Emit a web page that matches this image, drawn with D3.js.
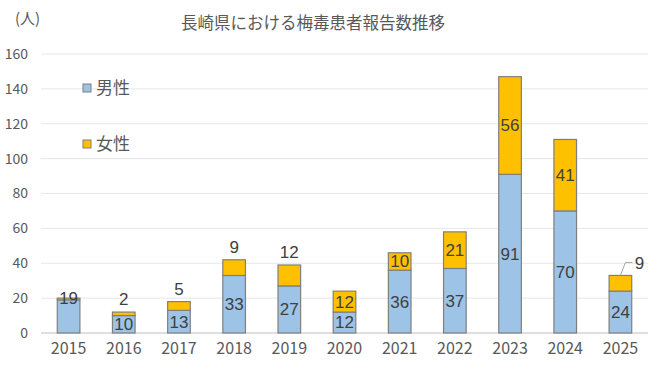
<!DOCTYPE html>
<html><head><meta charset="utf-8">
<script src="https://cdn.jsdelivr.net/npm/d3@7"></script>
<style>
body{margin:0;background:#fff;}
text{font-family:"Noto Sans CJK JP","Noto Sans",sans-serif;}
text.num{font-family:"Liberation Sans",Arial,sans-serif;}
</style></head>
<body>
<svg id="chart" width="665" height="382"></svg>
<script>
const years = ["2015","2016","2017","2018","2019","2020","2021","2022","2023","2024","2025"];
const male = [19,10,13,33,27,12,36,37,91,70,24];
const female = [1,2,5,9,12,12,10,21,56,41,9];
const yTicks = [0,20,40,60,80,100,120,140,160];
const seriesNames = ["男性","女性"];
const title = "長崎県における梅毒患者報告数推移";
const unitLabel = "(人)";
// female labels placed above the bar
const femaleAbove = ["2016","2017","2018","2019"];
const femaleHidden = ["2015"];
const femaleLeader = ["2025"];

const svg = d3.select("#chart");
const colors = {male:"#9dc3e6", female:"#ffc000"};
const x = d3.scaleBand().domain(years).range([41,648]).paddingInner(0.59).paddingOuter(0.295);
const y = d3.scaleLinear().domain([0,160]).range([333,54]);

// gridlines
svg.append("g").selectAll("line").data(yTicks.filter(d=>d>0)).join("line")
  .attr("x1",41).attr("x2",648).attr("y1",d=>y(d)).attr("y2",d=>y(d))
  .attr("stroke","#e6e6e6").attr("stroke-width",1);
svg.append("line").attr("x1",41).attr("x2",648).attr("y1",y(0)).attr("y2",y(0))
  .attr("stroke","#d4d4d4").attr("stroke-width",1.5);

// y axis labels
const yAxis = d3.axisLeft(y).tickValues(yTicks).tickSize(0).tickPadding(0);
const gy = svg.append("g").attr("transform","translate(28,0)").call(yAxis);
gy.select(".domain").remove();
gy.selectAll("text").attr("font-size",14).attr("fill","#595959")
  .style("font-family",'"Noto Sans CJK JP",sans-serif');

// x axis labels
const xAxis = d3.axisBottom(x).tickSize(0).tickPadding(0);
const gx = svg.append("g").attr("transform","translate(0,343)").call(xAxis);
gx.select(".domain").remove();
gx.selectAll("text").attr("font-size",16).attr("fill","#595959")
  .style("font-family",'"Noto Sans CJK JP",sans-serif');

const data = years.map((yr,i)=>({year:yr, male:male[i], female:female[i]}));
const stack = d3.stack().keys(["male","female"])(data);

svg.append("g").selectAll("g").data(stack).join("g")
  .attr("fill",d=>colors[d.key])
  .selectAll("rect").data(d=>d).join("rect")
  .attr("x",d=>x(d.data.year)).attr("width",x.bandwidth())
  .attr("y",d=>y(d[1])).attr("height",d=>y(d[0])-y(d[1]))
  .attr("stroke","#7f7f7f").attr("stroke-width",1.2);

// labels
const lab = svg.append("g").attr("font-size",17).attr("fill","#404040").attr("text-anchor","middle");
function addLabel(px, py, txt){
  lab.append("text").attr("class","num").attr("x",px).attr("y",py).attr("dy","0.35em").text(txt);
}
data.forEach(d=>{
  const cx = x(d.year)+x.bandwidth()/2;
  const top = d.male + d.female;
  let my = (d.year==="2015") ? y(top) : y(d.male/2);
  addLabel(cx, my, d.male);
  if (femaleHidden.includes(d.year)) return;
  if (femaleAbove.includes(d.year)) {
    addLabel(cx, y(top)-13, d.female);
  } else if (femaleLeader.includes(d.year)) {
    const x0 = cx, y0 = y(top);
    svg.append("polyline").attr("points",`${x0},${y0} ${x0+5},${y0-13} ${x0+12},${y0-13}`)
      .attr("fill","none").attr("stroke","#a6a6a6").attr("stroke-width",1);
    addLabel(x0+19, y0-12, d.female);
  } else {
    addLabel(cx, y(d.male + d.female/2), d.female);
  }
});

// title
svg.append("text").attr("x",313).attr("y",23).attr("dy","0.35em").attr("text-anchor","middle")
  .attr("font-size",16.5).attr("fill","#595959").text(title);
svg.append("text").attr("x",15).attr("y",19).attr("dy","0.35em")
  .attr("font-size",15).attr("fill","#595959").text(unitLabel);

// legend
const lg = svg.append("g");
seriesNames.forEach((n,i)=>{
  const ly = 88 + i*56;
  lg.append("rect").attr("x",83).attr("y",ly-4).attr("width",8).attr("height",8)
    .attr("fill",i===0?colors.male:colors.female).attr("stroke","#7f7f7f").attr("stroke-width",1);
  lg.append("text").attr("x",96).attr("y",ly).attr("dy","0.35em")
    .attr("font-size",17).attr("fill","#595959").text(n);
});
</script>
</body></html>
